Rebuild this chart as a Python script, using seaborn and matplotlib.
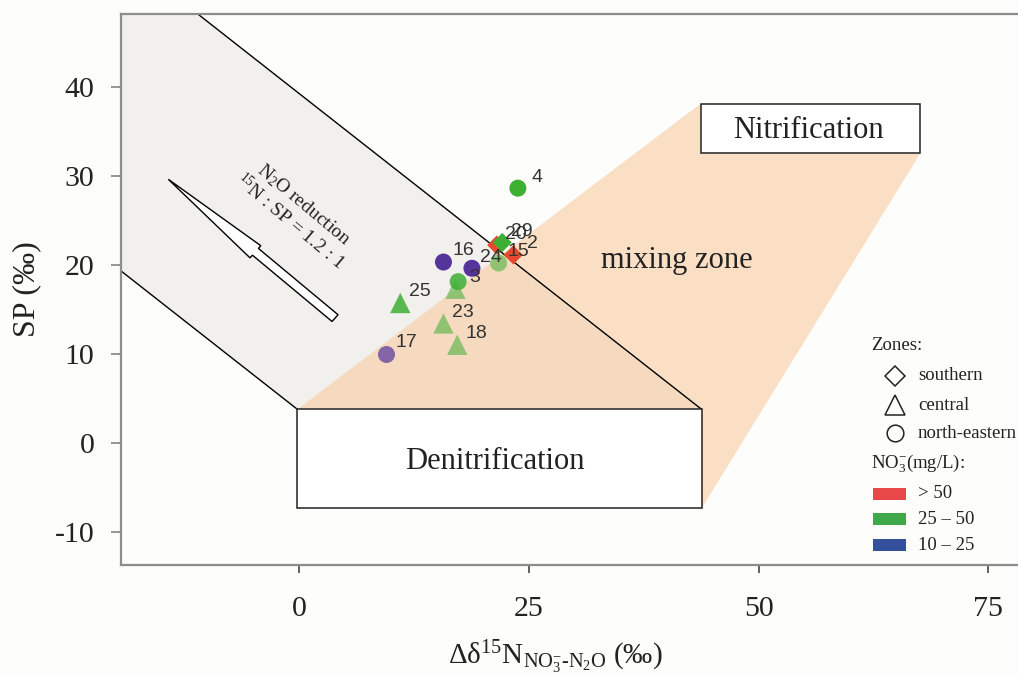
import matplotlib
matplotlib.use("Agg")
import numpy as np
import pandas as pd
import seaborn as sns
import matplotlib.pyplot as plt
from matplotlib.patches import Polygon, Rectangle, FancyArrow
from matplotlib.lines import Line2D

# ---- sample data -------------------------------------------------------
sample_id = ["4", "20", "29", "2", "15", "16", "24", "3", "", "25", "23", "18", "17"]
zone = ["north-eastern", "southern", "southern", "southern", "north-eastern",
        "north-eastern", "north-eastern", "central", "north-eastern", "central",
        "central", "central", "north-eastern"]
delta15N = [23.8, 21.5, 22.1, 23.3, 21.7, 15.7, 18.8, 17.0, 17.3, 11.0, 15.7, 17.2, 9.5]
sp_value = [28.6, 22.2, 22.5, 21.1, 20.2, 20.3, 19.6, 17.3, 18.1, 15.7, 13.4, 11.0, 10.0]
nitrate = ["25 – 50", "> 50", "25 – 50", "> 50", "25 – 50", "10 – 25", "10 – 25",
           "25 – 50", "25 – 50", "25 – 50", "25 – 50", "25 – 50", "10 – 25"]
opacity = [1.0, 1.0, 1.0, 1.0, 0.55, 1.0, 1.0, 0.55, 0.85, 0.85, 0.55, 0.55, 0.7]

zone_levels = ["southern", "central", "north-eastern"]
nitrate_levels = ["> 50", "25 – 50", "10 – 25"]

x_ticks = [0, 25, 50, 75]
y_ticks = [-10, 0, 10, 20, 30, 40]

# ---- conceptual diagram geometry (data units) --------------------------
denit_box = (-0.2, -7.37, 43.8, 3.75)      # x0, y0, x1, y1
nit_box = (43.7, 32.5, 67.6, 38.1)
reduction_slope = -0.81                     # N2O reduction trend

# ---- styling -----------------------------------------------------------
sns.set_style("white")
plt.rcParams.update({
    "font.family": ["Liberation Serif", "DejaVu Serif"],
    "mathtext.fontset": "custom",
    "mathtext.rm": "Liberation Serif",
    "mathtext.it": "Liberation Serif:italic",
    "mathtext.bf": "Liberation Serif:bold",
    "axes.unicode_minus": False,
})

bg = "#fdfdfb"
marker_map = {"southern": "D", "central": "^", "north-eastern": "o"}
size_map = {"southern": 95, "central": 215, "north-eastern": 150}
palette = {"> 50": "#e64a2e", "25 – 50": "#3daf33", "10 – 25": "#55349b"}
legend_colors = {"> 50": "#e84848", "25 – 50": "#3fa84a", "10 – 25": "#34509c"}

W, H = 1018, 677
fig = plt.figure(figsize=(W / 100, H / 100), dpi=100, facecolor=bg)
ax = fig.add_axes([121 / W, 1 - 565 / H, (W - 121) / W, (565 - 14) / H])
ax.set_facecolor(bg)
ax.set_xlim(-19.4, 78.24)
ax.set_ylim(-13.74, 48.17)


def fig_xy(px, py):
    return px / W, 1 - py / H


# N2O reduction band (between two parallel lines)
def low_line(x):
    return denit_box[3] + reduction_slope * (x - denit_box[0])


def up_line_x(y):
    return denit_box[2] + (y - denit_box[3]) / reduction_slope


xl, yt = -30, 60
band = Polygon([(xl, low_line(xl)), (denit_box[0], denit_box[3]),
                (denit_box[2], denit_box[3]), (up_line_x(yt), yt), (xl, yt)],
               closed=True, fc="#f2f0ec", ec="none", zorder=0.5)
ax.add_patch(band)

# mixing zone fan
fan = Polygon([(denit_box[0], denit_box[3]), (nit_box[0], nit_box[3]),
               (nit_box[2], nit_box[1]), (denit_box[2], denit_box[1])],
              closed=True, fc="#f8c89a", alpha=0.55, ec="none", zorder=0.6)
ax.add_patch(fan)

ax.plot([xl, denit_box[0]], [low_line(xl), denit_box[3]], color="black", lw=1.0, zorder=1)
ax.plot([up_line_x(yt), denit_box[2]], [yt, denit_box[3]], color="black", lw=1.0, zorder=1)

# process boxes
for (x0, y0, x1, y1), name, (tx, ty) in [
        (denit_box, "Denitrification", (21.3, -2.1)),
        (nit_box, "Nitrification", (55.4, 35.1))]:
    ax.add_patch(Rectangle((x0, y0), x1 - x0, y1 - y0, fc="white", ec="#222222",
                           lw=1.1, zorder=1.2))
    ax.text(tx, ty, name, ha="center", va="center", fontsize=22, color="#222222", zorder=1.3)

ax.text(41.1, 20.5, "mixing zone", ha="center", va="center", fontsize=22,
        color="#222222", zorder=1.3)

# N2O reduction arrow and annotation
ax.add_patch(FancyArrow(3.9, 14.0, -18.15, 15.6, width=1.0, head_width=1.8,
                        head_length=12.5, length_includes_head=True,
                        fc="white", ec="black", lw=1.0, zorder=1.4))
ax.text(0.44, 26.7, r"N$_2$O reduction", rotation=-40, rotation_mode="anchor",
        ha="center", va="center", fontsize=14, color="#222222", zorder=1.4)
ax.text(-0.98, 24.9, r"$^{15}$N : SP = 1.2 : 1", rotation=-40, rotation_mode="anchor",
        ha="center", va="center", fontsize=14, color="#222222", zorder=1.4)

# ---- samples -----------------------------------------------------------
df = pd.DataFrame({"id": sample_id, "zone": zone, "d15N": delta15N, "SP": sp_value,
                   "nitrate": nitrate, "opacity": opacity})
for op in sorted(df["opacity"].unique()):
    sub = df[df["opacity"] == op]
    sns.scatterplot(data=sub, x="d15N", y="SP", hue="nitrate", style="zone",
                    size="zone", markers=marker_map, sizes=size_map,
                    palette=palette, hue_order=nitrate_levels,
                    style_order=zone_levels, size_order=zone_levels,
                    alpha=op, linewidth=0, legend=False, ax=ax, zorder=3)

for _, r in df.iterrows():
    if r["id"]:
        ax.annotate(r["id"], (r["d15N"], r["SP"]), xytext=(14, 8),
                    textcoords="offset points", ha="center", va="center",
                    fontsize=14, family=["Liberation Sans", "DejaVu Sans"],
                    color="#333333", zorder=4)

# ---- axes --------------------------------------------------------------
ax.set_xticks(x_ticks)
ax.set_yticks(y_ticks)
ax.set_xticklabels([str(v) for v in x_ticks], fontsize=21.5, color="#222222")
ax.set_yticklabels([str(v) for v in y_ticks], fontsize=21.5, color="#222222")
ax.tick_params(axis="x", direction="out", length=6, width=1.3, color="#555555", pad=16,
               bottom=True)
ax.tick_params(axis="y", direction="out", length=7, width=1.3, color="#8d8d8d", pad=12,
               left=True)
for side in ["left", "top", "bottom"]:
    ax.spines[side].set_color("#8d8d8d")
    ax.spines[side].set_linewidth(1.6)
ax.spines["right"].set_visible(False)

ax.set_xlabel(r"Δδ$^{15}$N$_{\mathrm{NO_3^{-}\text{-}N_2O}}$ (‰)", fontsize=21,
              color="#222222")
ax.set_ylabel("SP (‰)", fontsize=23, color="#222222")
ax.xaxis.set_label_coords((555 - 121) / (W - 121), (565 - 638) / 551)
ax.yaxis.set_label_coords((41 - 121) / (W - 121), 0.5)

# ---- legend ------------------------------------------------------------
fs_leg = 13.5
fig.text(*fig_xy(871, 346), "Zones:", ha="left", va="center", fontsize=fs_leg, color="#222222")
zone_rows = [376, 405, 433]
zone_ms = {"southern": 10.5, "central": 14, "north-eastern": 12}
for lvl, py in zip(zone_levels, zone_rows):
    fx, fy = fig_xy(895, py)
    fig.add_artist(Line2D([fx], [fy], marker=marker_map[lvl], ms=zone_ms[lvl],
                          mfc="none", mec="#222222", mew=1.1, ls="",
                          transform=fig.transFigure))
    fig.text(*fig_xy(918, py), lvl, ha="left", va="center", fontsize=fs_leg, color="#222222")

fig.text(*fig_xy(871, 463), r"NO$_3^{-}$(mg/L):", ha="left", va="center",
         fontsize=fs_leg, color="#222222")
nit_rows = [494, 519, 545]
for lvl, py in zip(nitrate_levels, nit_rows):
    x0, y0 = fig_xy(873, py + 6)
    fig.add_artist(Rectangle((x0, y0), 33 / W, 12 / H, transform=fig.transFigure,
                             fc=legend_colors[lvl], ec="none"))
    fig.text(*fig_xy(918, py), lvl, ha="left", va="center", fontsize=fs_leg, color="#222222")

fig.savefig("out.png", dpi=100, facecolor=bg)
